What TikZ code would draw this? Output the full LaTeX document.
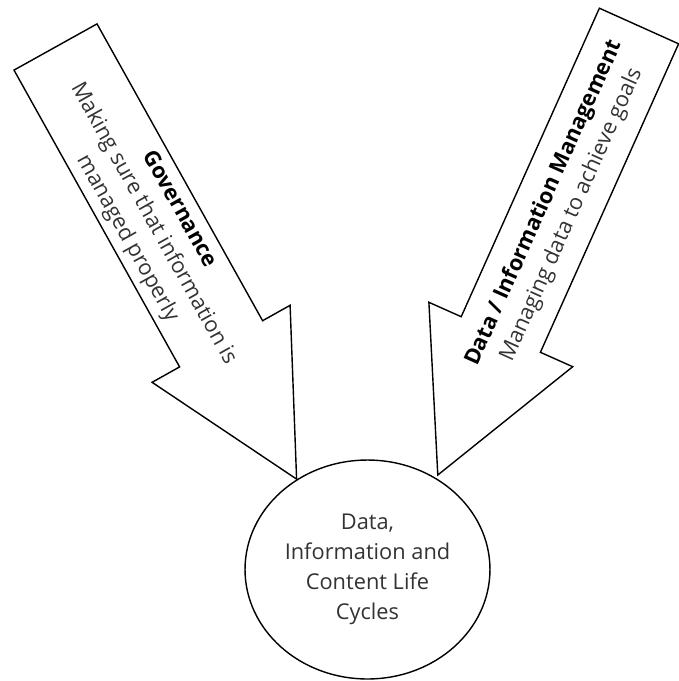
\documentclass[tikz,border=0pt]{standalone}
\usepackage{fontspec}
\setmainfont{Open Sans}
\usetikzlibrary{shapes.geometric}

\begin{document}
\begin{tikzpicture}[x=0.02cm, y=-0.02cm, line width=0.8pt,
		txt/.style={align=center, text=black!80, font=\fontsize{12.4}{17}\selectfont, inner sep=0pt},
		bigarrow/.style={draw, line join=miter}]
		\useasboundingbox (0,0) rectangle (679,681);
		\node[draw, ellipse, minimum width=4.9cm, minimum height=4.38cm, txt] (life) at (367.5,569.5)
		{Data,\\Information and\\Content Life\\Cycles};
		% governance arrow
		\draw[bigarrow] (14,70.1) -- (179.6,366.9) -- (152.1,382.3) -- (296.6,479.1)
		-- (290.1,305.3) -- (262.6,320.7) -- (97,23.9) -- cycle;
		\node[txt, rotate=-60.8] (gov) at (153,224)
		{\textcolor{black}{\textbf{Governance}}\\Making sure that information is\\managed properly};
		% management arrow
		\draw[bigarrow] (599.4,8.2) -- (461.2,316.7) -- (428.9,302.3) -- (437.8,475)
		-- (572.7,366.7) -- (540.4,352.3) -- (678.6,43.8) -- cycle;
		\node[txt, rotate=65.9] (dim) at (558,209)
		{\textcolor{black}{\textbf{Data / Information Management}}\\Managing data to achieve goals};
\end{tikzpicture}
\end{document}
